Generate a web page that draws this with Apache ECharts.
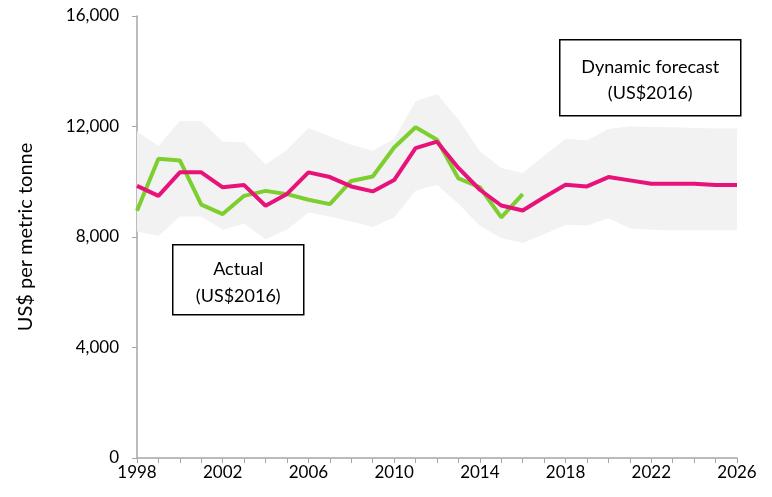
<!DOCTYPE html>
<html>
<head>
<meta charset="utf-8">
<script src="https://cdn.jsdelivr.net/npm/echarts@6/dist/echarts.min.js"></script>
<style>
  html, body { margin: 0; padding: 0; background: #fff; }
  #main { width: 772px; height: 497px; }
</style>
</head>
<body>
<div id="main"></div>
<script>
// years on the x axis
const years = [];
for (let y = 1998; y <= 2026; y++) years.push(String(y));

// actual price (US$2016), 1998-2016
const actual = [8950, 10830, 10770, 9170, 8830, 9490, 9670, 9550, 9350, 9190,
  10030, 10190, 11240, 11970, 11520, 10120, 9800, 8710, 9550];

// dynamic forecast, 1998-2026
const forecast = [9850, 9490, 10340, 10340, 9800, 9880, 9130, 9560, 10340, 10170,
  9830, 9650, 10060, 11220, 11450, 10500, 9710, 9140, 8960, 9440,
  9890, 9830, 10170, 10050, 9930, 9930, 9930, 9880, 9880];

// forecast band
const bandLow = [8200, 8040, 8740, 8740, 8260, 8480, 7920, 8260, 8890, 8740,
  8560, 8360, 8710, 9670, 9890, 9200, 8410, 7960, 7780, 8100,
  8440, 8420, 8680, 8320, 8260, 8240, 8240, 8240, 8240];
const bandHigh = [11830, 11290, 12200, 12200, 11460, 11430, 10620, 11160, 11950, 11640,
  11340, 11120, 11550, 12910, 13180, 12250, 11100, 10500, 10320, 10950,
  11550, 11500, 11910, 12010, 11980, 11970, 11950, 11930, 11930];

const bandDiff = bandHigh.map((v, i) => v - bandLow[i]);

const axisColor = '#a6a6a6';
const font = 'Lato, "Open Sans", sans-serif';

var chart = echarts.init(document.getElementById('main'));

const option = {
  animation: false,
  grid: { left: 137, right: 35, top: 16, bottom: 39 },
  xAxis: {
    type: 'category',
    data: years,
    boundaryGap: false,
    axisLine: { lineStyle: { color: axisColor, width: 1.5 } },
    axisTick: { interval: 0, length: 5, lineStyle: { color: axisColor } },
    axisLabel: { interval: 3, color: '#000', fontSize: 17, fontFamily: font, margin: 6 },
    splitLine: { show: false }
  },
  yAxis: {
    type: 'value',
    min: 0,
    max: 16000,
    interval: 4000,
    name: 'US$ per metric tonne',
    nameLocation: 'middle',
    nameGap: 101,
    nameRotate: 90,
    nameTextStyle: { color: '#000', fontSize: 20, fontFamily: font },
    axisLine: { show: true, lineStyle: { color: axisColor, width: 1.5 } },
    axisTick: { show: true, length: 5, lineStyle: { color: axisColor } },
    axisLabel: {
      color: '#000', fontSize: 17, fontFamily: font, margin: 18,
      formatter: v => v.toLocaleString('en-US')
    },
    splitLine: { show: false }
  },
  series: [
    {
      name: 'bandLow',
      type: 'line',
      data: bandLow,
      stack: 'band',
      symbol: 'none',
      lineStyle: { opacity: 0 },
      silent: true
    },
    {
      name: 'band',
      type: 'line',
      data: bandDiff,
      stack: 'band',
      symbol: 'none',
      lineStyle: { opacity: 0 },
      areaStyle: { color: '#f2f2f2', opacity: 1 },
      silent: true
    },
    {
      name: 'Actual',
      type: 'line',
      data: actual,
      symbol: 'none',
      lineStyle: { color: '#7ccf2e', width: 4 },
      z: 3
    },
    {
      name: 'Dynamic forecast',
      type: 'line',
      data: forecast,
      symbol: 'none',
      lineStyle: { color: '#e8137a', width: 4 },
      z: 4
    }
  ],
  graphic: [
    {
      type: 'group',
      left: 559,
      top: 39,
      children: [
        { type: 'rect', shape: { x: 0, y: 0, width: 181, height: 76 },
          style: { fill: '#fff', stroke: '#000', lineWidth: 1.5 } },
        { type: 'text', x: 90.5, y: 27, style: { text: 'Dynamic forecast', fontSize: 18, fontFamily: font,
          fill: '#000', align: 'center', verticalAlign: 'middle' } },
        { type: 'text', x: 90.5, y: 53, style: { text: '(US$2016)', fontSize: 18, fontFamily: font,
          fill: '#000', align: 'center', verticalAlign: 'middle' } }
      ]
    },
    {
      type: 'group',
      left: 172,
      top: 244,
      children: [
        { type: 'rect', shape: { x: 0, y: 0, width: 131, height: 70 },
          style: { fill: '#fff', stroke: '#000', lineWidth: 1.5 } },
        { type: 'text', x: 65.5, y: 24, style: { text: 'Actual', fontSize: 18, fontFamily: font,
          fill: '#000', align: 'center', verticalAlign: 'middle' } },
        { type: 'text', x: 65.5, y: 51, style: { text: '(US$2016)', fontSize: 18, fontFamily: font,
          fill: '#000', align: 'center', verticalAlign: 'middle' } }
      ]
    }
  ]
};

chart.setOption(option);
</script>
</body>
</html>
